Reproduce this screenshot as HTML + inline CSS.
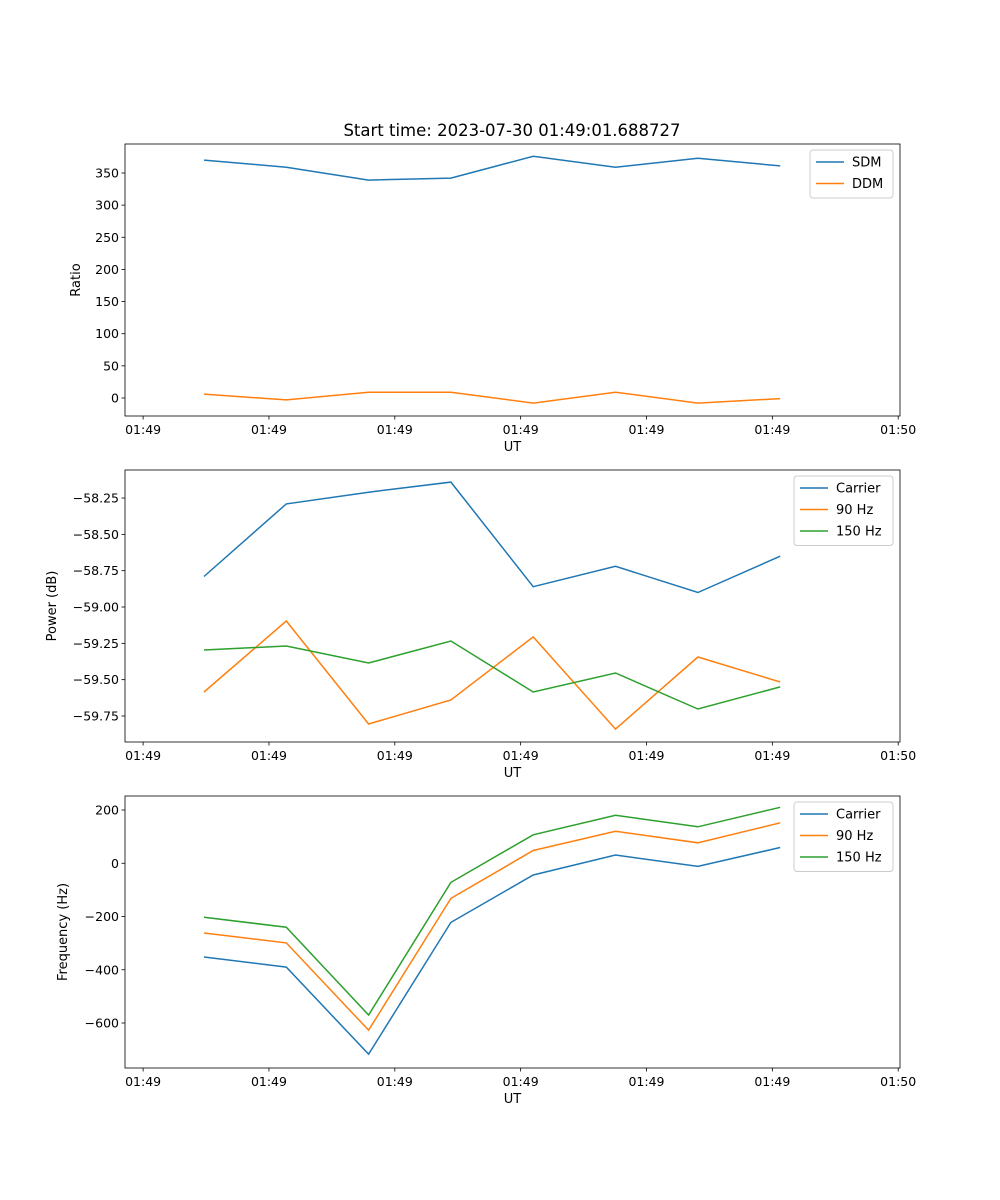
<!DOCTYPE html>
<html><head><meta charset="utf-8"><style>
body{margin:0;background:#fff;}
svg{display:block;font-family:"DejaVu Sans","Liberation Sans",sans-serif;}
</style></head><body>
<svg id="fig" width="1000" height="1200" viewBox="0 0 1000 1200"></svg>
<script>
const xTickLabels = ["01:49","01:49","01:49","01:49","01:49","01:49","01:50"];
const sampleIdx = [0,1,2,3,4,5,6,7];
const sdm = [370,359,339,342,376,359,373,361];
const ddm = [6,-3,9,9,-8,9,-8,-1];
const pCarrier = [-58.79,-58.29,-58.21,-58.14,-58.86,-58.72,-58.90,-58.65];
const p90 = [-59.585,-59.096,-59.805,-59.64,-59.206,-59.84,-59.344,-59.516];
const p150 = [-59.296,-59.268,-59.385,-59.234,-59.585,-59.454,-59.702,-59.55];
const fCarrier = [-352,-390,-717,-222,-44,31,-12,59];
const f90 = [-262,-299,-627,-132,48,120,77,152];
const f150 = [-203,-240,-570,-72,107,180,137,210];
const ticks1 = [0,50,100,150,200,250,300,350];
const ticks2 = [-59.75,-59.50,-59.25,-59.00,-58.75,-58.50,-58.25];
const ticks3 = [-600,-400,-200,0,200];
const colors = ["#1f77b4","#ff7f0e","#2ca02c"];

const NS="http://www.w3.org/2000/svg";
const svg=document.getElementById('fig');
function mk(tag,attrs,parent){const e=document.createElementNS(NS,tag);for(const k in attrs)e.setAttribute(k,attrs[k]);(parent||svg).appendChild(e);return e;}
const L=125,R=900;
const xMin=-0.96,xMax=8.456;
const xs=v=>L+(v-xMin)/(xMax-xMin)*(R-L);
const tick0=-0.74,tickStep=1.529;

function panel(top,bot,yMin,yMax,yTicks,fmt,ylabel,series,names,legend,name){
  const g=mk('g',{});
  
  
  const ys=v=>bot-(v-yMin)/(yMax-yMin)*(bot-top);
  series.forEach((s,si)=>{
    const pts=sampleIdx.map((i,k)=>xs(i).toFixed(1)+','+ys(s[k]).toFixed(1)).join(' ');
    const pl=mk('polyline',{points:pts,fill:'none',stroke:colors[si],'stroke-width':1.5},g);
    
    
  });
  const fr=mk('rect',{x:L,y:top,width:R-L,height:bot-top,fill:'none',stroke:'#000','stroke-width':0.8},g);
  
  
  xTickLabels.forEach((lab,k)=>{
    const x=xs(tick0+k*tickStep);
    mk('line',{x1:x,x2:x,y1:bot,y2:bot+3.5,stroke:'#000','stroke-width':0.8},g);
    const t=mk('text',{x:x,y:bot+18,'font-size':12.5,'text-anchor':'middle'},g);t.textContent=lab;
    
    
  });
  const xl=mk('text',{x:(L+R)/2,y:bot+35,'font-size':13,'text-anchor':'middle'},g);xl.textContent='UT';
  
  
  yTicks.forEach(v=>{
    const y=ys(v);
    mk('line',{x1:L-3.5,x2:L,y1:y,y2:y,stroke:'#000','stroke-width':0.8},g);
    const t=mk('text',{x:L-6,y:y+4.5,'font-size':12.5,'text-anchor':'end'},g);t.textContent=fmt(v);
    
    
  });
  const yl=mk('text',{x:0,y:0,'font-size':13,'text-anchor':'middle',transform:`translate(${legend.yl},${(top+bot)/2}) rotate(-90)`},g);yl.textContent=ylabel;
  
  
  const lg=mk('g',{},g);
  
  
  mk('rect',{x:legend.x,y:top+6,width:legend.w,height:names.length*21.5+5,fill:'#fff',stroke:'#ccc',rx:3},lg);
  names.forEach((n,i)=>{
    const y=top+18+i*21.5;
    mk('line',{x1:legend.x+6,x2:legend.x+34,y1:y,y2:y,stroke:colors[i],'stroke-width':1.5},lg);
    const t=mk('text',{x:legend.x+42,y:y+4.5,'font-size':13},lg);t.textContent=n;
    
    
  });
}
const title=mk('text',{x:512,y:136,'font-size':16.5,'text-anchor':'middle'});
title.textContent='Start time: 2023-07-30 01:49:01.688727';


panel(144,416,-28,395.1,ticks1,v=>String(v),'Ratio',[sdm,ddm],['SDM','DDM'],{x:810,w:83,yl:80},'ratio-panel');
panel(470,742,-59.929,-58.057,ticks2,v=>'\u2212'+Math.abs(v).toFixed(2),'Power (dB)',[pCarrier,p90,p150],['Carrier','90 Hz','150 Hz'],{x:794,w:99,yl:56},'power-panel');
panel(796,1068,-769,252.6,ticks3,v=>(v<0?'\u2212':'')+Math.abs(v),'Frequency (Hz)',[fCarrier,f90,f150],['Carrier','90 Hz','150 Hz'],{x:794,w:99,yl:67},'frequency-panel');
</script>
</body></html>
